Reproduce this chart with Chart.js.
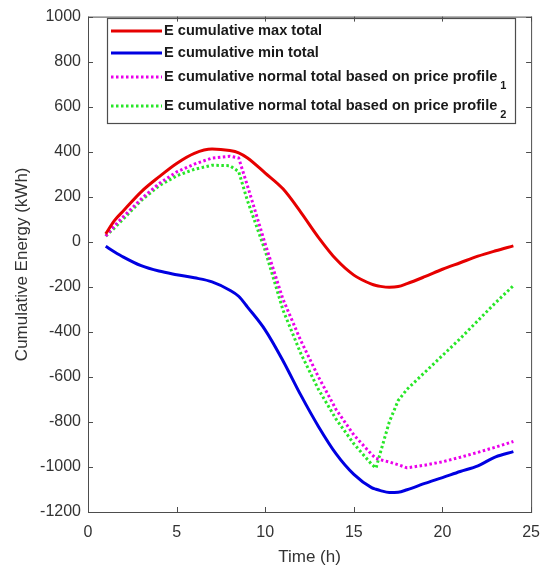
<!DOCTYPE html>
<html lang="en">
<head>
  <meta charset="UTF-8">
  <title>Cumulative Energy</title>
  <style>
    body {
      margin: 0;
      background: #fff;
    }
    #energy-chart {
      display: block;
    }
  </style>
</head>
<body>
  <canvas id="energy-chart" width="551" height="570"></canvas>

  <script src="https://cdn.jsdelivr.net/npm/chart.js"></script>
  <script>
    // Sample times (h)
    const hours = [1, 1.5, 2, 3, 4, 5, 6, 7, 8, 8.5, 9, 10, 11, 12, 13, 14, 15, 16, 16.25, 16.5, 17, 17.5, 18, 19, 20, 21, 22, 23, 24];

    // Cumulative energy (kWh)
    const maxTotal = [35, 95, 138, 222, 288, 348, 393, 412, 405, 395, 372, 305, 235, 132, 20, -78, -148, -188, -194, -198, -202, -199, -186, -155, -122, -93, -64, -40, -18];
    const minTotal = [-20, -45, -68, -106, -130, -146, -160, -178, -215, -242, -290, -392, -528, -680, -820, -942, -1033, -1092, -1099, -1105, -1113, -1112, -1101, -1073, -1047, -1020, -995, -955, -932];
    const normalProfile1 = [25, 72, 112, 190, 258, 310, 345, 372, 380, 372, 248, -10, -255, -438, -600, -745, -858, -944, -962, -968, -978, -990, -1004, -992, -977, -957, -935, -912, -887];
    const normalProfile2 = [25, 62, 102, 183, 248, 293, 322, 340, 338, 312, 182, -40, -303, -495, -655, -788, -897, -988, -1005, -935, -800, -705, -655, -580, -505, -430, -350, -270, -195];

    const seriesNames = [
      'E cumulative max total',
      'E cumulative min total',
      'E cumulative normal total based on price profile',
      'E cumulative normal total based on price profile'
    ];
    const seriesSubscripts = ['', '', '1', '2'];

    const xTicks = [0, 5, 10, 15, 20, 25];
    const yTicks = [-1200, -1000, -800, -600, -400, -200, 0, 200, 400, 600, 800, 1000];

    const FONT = "'Liberation Sans', Arial, sans-serif";
    const AXIS_COLOR = '#4d4d4d';

    function toPoints(values) {
      return hours.map((h, i) => ({ x: h, y: values[i] }));
    }

    // Box round the axes with inward tick marks
    const axesBox = {
      id: 'axesBox',
      afterDraw(chart) {
        const { ctx, chartArea: a, scales } = chart;
        const len = 5;
        ctx.save();
        ctx.strokeStyle = AXIS_COLOR;
        ctx.lineWidth = 1;
        ctx.strokeRect(a.left + 0.5, a.top + 0.5, a.right - a.left, a.bottom - a.top);
        ctx.beginPath();
        xTicks.forEach(v => {
          const px = Math.round(scales.x.getPixelForValue(v)) + 0.5;
          ctx.moveTo(px, a.bottom);
          ctx.lineTo(px, a.bottom - len);
          ctx.moveTo(px, a.top);
          ctx.lineTo(px, a.top + len);
        });
        yTicks.forEach(v => {
          const py = Math.round(scales.y.getPixelForValue(v)) + 0.5;
          ctx.moveTo(a.left, py);
          ctx.lineTo(a.left + len, py);
          ctx.moveTo(a.right, py);
          ctx.lineTo(a.right - len, py);
        });
        ctx.stroke();
        ctx.restore();
      }
    };

    // Legend inside the plot, with subscripts after the label text
    const innerLegend = {
      id: 'innerLegend',
      afterDatasetsDraw(chart) {
        const { ctx } = chart;
        const box = { left: 107, top: 18, right: 515, bottom: 123 };
        const rows = [31, 53, 77, 106];
        ctx.save();
        ctx.fillStyle = '#fff';
        ctx.fillRect(box.left, box.top, box.right - box.left, box.bottom - box.top);
        ctx.strokeStyle = AXIS_COLOR;
        ctx.lineWidth = 1.2;
        ctx.strokeRect(box.left + 0.5, box.top + 0.5, box.right - box.left, box.bottom - box.top);

        chart.data.datasets.forEach((ds, i) => {
          const y = rows[i];
          ctx.strokeStyle = ds.borderColor;
          ctx.lineWidth = ds.borderWidth;
          ctx.setLineDash(ds.borderDash || []);
          ctx.beginPath();
          ctx.moveTo(111, y);
          ctx.lineTo(162, y);
          ctx.stroke();
          ctx.setLineDash([]);

          ctx.fillStyle = '#1a1a1a';
          ctx.textBaseline = 'middle';
          ctx.font = 'bold 14.6px ' + FONT;
          ctx.fillText(ds.label, 164, y);
          if (seriesSubscripts[i]) {
            const w = ctx.measureText(ds.label).width;
            ctx.font = 'bold 11px ' + FONT;
            ctx.fillText(seriesSubscripts[i], 164 + w + 3, y + 9);
          }
        });
        ctx.restore();
      }
    };

    const ctx = document.getElementById('energy-chart').getContext('2d');

    new Chart(ctx, {
      type: 'line',
      data: {
        datasets: [
          {
            label: seriesNames[0],
            data: toPoints(maxTotal),
            borderColor: 'rgb(230, 0, 0)',
            borderWidth: 3,
            cubicInterpolationMode: 'monotone'
          },
          {
            label: seriesNames[1],
            data: toPoints(minTotal),
            borderColor: 'rgb(0, 0, 225)',
            borderWidth: 3,
            cubicInterpolationMode: 'monotone'
          },
          {
            label: seriesNames[2],
            data: toPoints(normalProfile1),
            borderColor: 'rgb(235, 0, 235)',
            borderWidth: 3,
            borderDash: [2.5, 2.5],
            tension: 0
          },
          {
            label: seriesNames[3],
            data: toPoints(normalProfile2),
            borderColor: 'rgb(40, 230, 40)',
            borderWidth: 3,
            borderDash: [2.5, 2.5],
            tension: 0
          }
        ]
      },
      options: {
        responsive: false,
        animation: false,
        elements: {
          point: { radius: 0 },
          line: { borderCapStyle: 'butt', borderJoinStyle: 'round' }
        },
        layout: {
          padding: { top: 13, right: 19, left: 0, bottom: 0 }
        },
        plugins: {
          legend: { display: false },
          tooltip: { enabled: false }
        },
        scales: {
          x: {
            type: 'linear',
            min: 0,
            max: 25,
            afterFit: s => { s.height = 58; },
            afterBuildTicks: s => { s.ticks = xTicks.map(v => ({ value: v })); },
            grid: { display: false, drawTicks: false },
            border: { display: false },
            ticks: {
              padding: 11,
              color: '#333',
              font: { family: FONT, size: 16 },
              maxRotation: 0,
              callback: v => String(v)
            },
            title: {
              display: true,
              text: 'Time (h)',
              color: '#333',
              font: { family: FONT, size: 17 },
              padding: { top: 0, bottom: 2 }
            }
          },
          y: {
            type: 'linear',
            min: -1200,
            max: 1000,
            afterFit: s => { s.width = 88; },
            afterBuildTicks: s => { s.ticks = yTicks.map(v => ({ value: v })); },
            grid: { display: false, drawTicks: false },
            border: { display: false },
            ticks: {
              padding: 7,
              color: '#333',
              font: { family: FONT, size: 16 },
              callback: v => String(v)
            },
            title: {
              display: true,
              text: 'Cumulative Energy (kWh)',
              color: '#333',
              font: { family: FONT, size: 17 },
              padding: { top: 12, bottom: 0 }
            }
          }
        }
      },
      plugins: [axesBox, innerLegend]
    });
  </script>
</body>
</html>
